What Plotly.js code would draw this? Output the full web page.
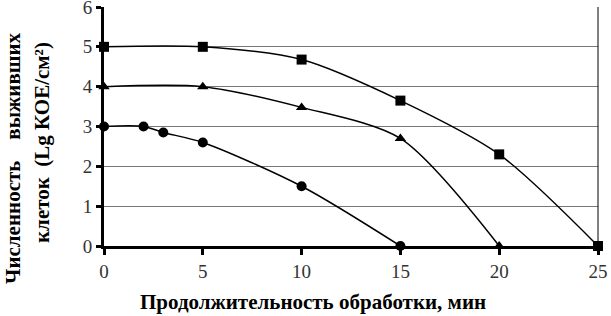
<!DOCTYPE html>
<html><head><meta charset="utf-8">
<script src="https://cdn.plot.ly/plotly-3.0.1.min.js"></script>
<style>body{margin:0;padding:0;background:#fff}#chart{width:611px;height:316px}</style>
</head><body><div id="chart"></div>
<script>
const xSquare = [0, 5, 10, 15, 20, 25];
const ySquare = [5, 5, 4.68, 3.65, 2.3, 0];
const xTriangle = [0, 5, 10, 15, 20];
const yTriangle = [4, 4, 3.48, 2.7, 0];
const xCircle = [0, 2, 3, 5, 10, 15];
const yCircle = [3, 3, 2.85, 2.6, 1.5, 0];
const xTicks = [0, 5, 10, 15, 20, 25];
const yTicks = [0, 1, 2, 3, 4, 5, 6];
const xTitle = 'Продолжительность обработки, мин';
const yTitleLine1 = 'Численность\u00a0\u00a0\u00a0\u00a0выживших';
const yTitleLine2 = 'клеток\u00a0\u00a0(Lg КОЕ/см²)';

function tr(x, y, sym) {
  return {x: x, y: y, type: 'scatter', mode: 'lines+markers', cliponaxis: false,
    line: {color: '#000', width: 1.5, shape: 'spline', smoothing: 0.8},
    marker: {symbol: sym, size: 10, color: '#000'}, showlegend: false};
}
const data = [tr(xSquare, ySquare, 'square'), tr(xTriangle, yTriangle, 'triangle-up'), tr(xCircle, yCircle, 'circle')];
function tf() { return {family: 'Liberation Serif', size: 19, color: '#333'}; }
function titleFont() { return {family: 'Liberation Serif', size: 21, color: '#000', weight: 'bold'}; }
const layout = {
  width: 611, height: 316, margin: {l: 104, r: 13, t: 7, b: 70},
  xaxis: {range: [0, 25], tickvals: xTicks, showgrid: false, zeroline: false,
    showline: true, linecolor: '#000', linewidth: 3, ticks: 'outside', ticklen: 6, tickwidth: 3, tickcolor: '#000',
    ticklabeloverflow: 'allow', tickfont: tf()},
  yaxis: {range: [0, 6], tickvals: yTicks, showgrid: true, gridcolor: '#777', zeroline: false,
    showline: true, linecolor: '#000', linewidth: 3, ticks: 'outside', ticklen: 5, tickwidth: 3, tickcolor: '#000',
    ticklabeloverflow: 'allow', tickfont: tf()}
};
const annotations = [
  {text: xTitle, xref: 'paper', yref: 'paper', x: (313 - 104) / 494, y: -(302 - 246) / 239,
    xanchor: 'center', yanchor: 'middle', showarrow: false, font: titleFont()},
  {text: yTitleLine1, xref: 'paper', yref: 'paper', x: (13 - 104) / 494, y: (246 - 158) / 239,
    xanchor: 'center', yanchor: 'middle', textangle: -90, showarrow: false, font: titleFont()},
  {text: yTitleLine2, xref: 'paper', yref: 'paper', x: (42 - 104) / 494, y: (246 - 143) / 239,
    xanchor: 'center', yanchor: 'middle', textangle: -90, showarrow: false, font: titleFont()}
];
const shapes = [{type: 'line', xref: 'paper', yref: 'paper', x0: 1, x1: 1, y0: 0, y1: 1, line: {color: '#000', width: 1}}];
Plotly.newPlot('chart', data, layout, {displayModeBar: false}).then(function (gd) {
  return Plotly.relayout(gd, {annotations: annotations, shapes: shapes});
});
</script></body></html>
